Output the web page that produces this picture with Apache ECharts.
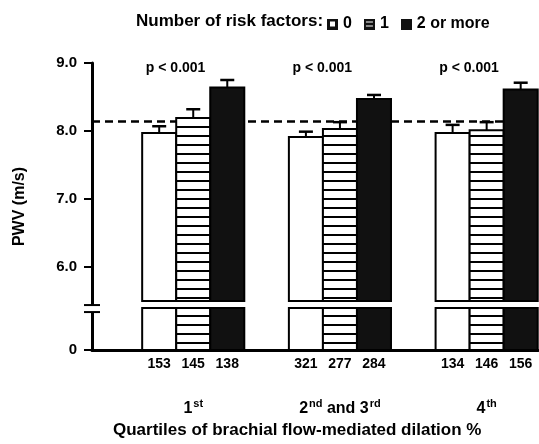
<!DOCTYPE html>
<html>
<head>
<meta charset="utf-8">
<title>PWV by FMD quartile</title>
<script src="https://cdn.jsdelivr.net/npm/echarts@6/dist/echarts.min.js"></script>
<style>html,body{margin:0;padding:0;background:#fff}#main{width:539px;height:444px}</style>
</head>
<body>
<div id="main"></div>
<script>
// categories
var quartiles = ['1{s|st}', '2{s|nd} and 3{s|rd}', '4{s|th}'];
var riskGroups = ['0', '1', '2 or more'];
// mean PWV (m/s), per quartile
var pwv0 = [7.97, 7.91, 7.97];
var pwv1 = [8.19, 8.03, 8.01];
var pwv2 = [8.64, 8.47, 8.61];
// upper error (m/s)
var err0 = [0.10, 0.08, 0.12];
var err1 = [0.13, 0.10, 0.12];
var err2 = [0.11, 0.06, 0.10];
// number of subjects
var n0 = [153, 321, 134];
var n1 = [145, 277, 146];
var n2 = [138, 284, 156];
var pText = ['p < 0.001', 'p < 0.001', 'p < 0.001'];
var refLine = 8.15;
var yTicks = [0, 6, 7, 8, 9];

// broken axis: everything above 5.5 is drawn shifted down, 0..5.5 squeezed
var SHIFT = 4.779;
var BREAK_TOP = 5.5;
var GAP_LOW = 0.618;      // top of the lower bar piece (axis units)
function toAxis(v) { return v <= 0 ? 0 : v - SHIFT; }

var FONT = 'Liberation Sans';
var BAR_W = 0.232;
var OFFSETS = [-BAR_W, 0, BAR_W];

// striped fill
var cv = document.createElement('canvas');
cv.width = 4; cv.height = 9;
var g = cv.getContext('2d');
g.fillStyle = '#fff'; g.fillRect(0, 0, 4, 9);
g.fillStyle = '#000'; g.fillRect(0, 0, 4, 2);
var stripes = { image: cv, repeat: 'repeat' };
var fills = ['#fff', stripes, '#111'];

// little legend squares
function legendIcon(k) {
  var c = document.createElement('canvas');
  c.width = 11; c.height = 11;
  var t = c.getContext('2d');
  t.fillStyle = '#111'; t.fillRect(0, 0, 11, 11);
  t.fillStyle = '#fff';
  if (k === 0) t.fillRect(3, 3, 5, 5);
  if (k === 1) { t.fillRect(2, 3, 7, 1); t.fillRect(2, 7, 7, 1); }
  return 'image://' + c.toDataURL();
}

function barSeries(k, vals, errs, ns) {
  return {
    type: 'custom',
    name: riskGroups[k],
    z: 3,
    itemStyle: { color: k === 1 ? '#fff' : fills[k], borderColor: '#000', borderWidth: 2 },
    encode: { x: 0, y: 1 },
    data: vals.map(function (v, i) { return [i + 1, toAxis(v), toAxis(v + errs[i]), ns[i]]; }),
    renderItem: function (params, api) {
      var x = api.value(0) + OFFSETS[k];
      var w = api.size([BAR_W, 0])[0];
      var c = api.coord([x, 0]);
      var xc = c[0], y0 = c[1];
      var yLo = api.coord([x, GAP_LOW])[1];
      var yHi = api.coord([x, toAxis(BREAK_TOP)])[1];
      var yTop = api.coord([x, api.value(1)])[1];
      var yErr = api.coord([x, api.value(2)])[1];
      var st = { fill: fills[k], stroke: '#000', lineWidth: 2 };
      return {
        type: 'group',
        children: [
          { type: 'line', shape: { x1: xc, y1: yTop, x2: xc, y2: yErr }, style: { stroke: '#000', lineWidth: 2 } },
          { type: 'line', shape: { x1: xc - 7, y1: yErr, x2: xc + 7, y2: yErr }, style: { stroke: '#000', lineWidth: 2.5 } },
          { type: 'rect', shape: { x: xc - w / 2, y: yTop, width: w, height: yHi - yTop }, style: st },
          { type: 'rect', shape: { x: xc - w / 2, y: yLo, width: w, height: y0 - yLo }, style: st },
          { type: 'text', style: { text: String(api.value(3)), x: xc, y: y0 + 14, align: 'center', verticalAlign: 'middle',
            font: 'bold 14px ' + FONT, fill: '#000' } }
        ]
      };
    }
  };
}

var series = [
  barSeries(0, pwv0, err0, n0),
  barSeries(1, pwv1, err1, n1),
  barSeries(2, pwv2, err2, n2),
  {
    type: 'line', name: 'ref', data: [], z: 1,
    markLine: {
      silent: true, symbol: 'none', z: 1,
      label: { show: false },
      lineStyle: { color: '#000', width: 2.5, type: [8, 5] },
      data: [{ yAxis: toAxis(refLine) }]
    }
  },
  {
    type: 'custom', name: 'p', z: 4,
    data: pText.map(function (t, i) { return [i + 1, toAxis(8.93), t]; }),
    renderItem: function (params, api) {
      var p = api.coord([api.value(0) - 0.12, api.value(1)]);
      return { type: 'text', style: { text: pText[params.dataIndex], x: p[0], y: p[1], align: 'center', verticalAlign: 'middle',
        font: 'bold 14px ' + FONT, fill: '#000' } };
    }
  },
  {
    // the break mark on the y axis
    type: 'custom', name: 'break', z: 5,
    data: [[1, 0]],
    renderItem: function (params, api) {
      var xa = params.coordSys.x;
      var y1 = api.coord([1, GAP_LOW - 0.06])[1];
      var y2 = api.coord([1, toAxis(BREAK_TOP) - 0.06])[1];
      return {
        type: 'group',
        children: [
          { type: 'rect', shape: { x: xa - 3, y: y2, width: 6, height: y1 - y2 }, style: { fill: '#fff' } },
          { type: 'line', shape: { x1: xa - 8, y1: y1, x2: xa + 8, y2: y1 }, style: { stroke: '#000', lineWidth: 2 } },
          { type: 'line', shape: { x1: xa - 8, y1: y2, x2: xa + 8, y2: y2 }, style: { stroke: '#000', lineWidth: 2 } }
        ]
      };
    }
  }
];

var option = {
  backgroundColor: '#fff',
  animation: false,
  title: {
    text: 'Number of risk factors:',
    left: 131, top: 8,
    textStyle: { fontFamily: FONT, fontWeight: 'bold', fontSize: 17, color: '#000' }
  },
  legend: {
    left: 322, top: 11,
    itemWidth: 11, itemHeight: 11, itemGap: 12,
    textStyle: { fontFamily: FONT, fontWeight: 'bold', fontSize: 16, color: '#000' },
    data: riskGroups.map(function (name, i) {
      return { name: name, icon: legendIcon(i) };
    })
  },
  grid: { left: 92, right: 1, top: 63, bottom: 94, outerBoundsMode: 'none' },
  xAxis: {
    type: 'value', min: 0.31, max: 3.35,
    splitLine: { show: false },
    axisTick: { show: false },
    axisLine: { onZero: false, lineStyle: { color: '#000', width: 3 } },
    axisLabel: {
      customValues: [1, 2, 3],
      margin: 48,
      formatter: function (v) { return quartiles[Math.round(v) - 1]; },
      color: '#000', fontFamily: FONT, fontWeight: 'bold', fontSize: 16,
      rich: { s: { fontSize: 11, fontWeight: 'bold', fontFamily: FONT, verticalAlign: 'top', padding: [0, 0, 10, 1] } }
    }
  },
  yAxis: {
    type: 'value', min: 0, max: toAxis(9),
    splitLine: { show: false },
    axisLine: { show: true, onZero: false, lineStyle: { color: '#000', width: 3 } },
    axisTick: { show: true, length: 8, customValues: yTicks.map(toAxis), lineStyle: { color: '#000', width: 2 } },
    axisLabel: {
      customValues: yTicks.map(toAxis),
      margin: 15,
      formatter: function (d) {
        for (var i = 0; i < yTicks.length; i++) {
          if (Math.abs(toAxis(yTicks[i]) - d) < 1e-6) return yTicks[i] === 0 ? '0' : yTicks[i].toFixed(1);
        }
        return '';
      },
      color: '#000', fontFamily: FONT, fontWeight: 'bold', fontSize: 15
    },
    name: 'PWV (m/s)', nameLocation: 'middle', nameGap: 64,
    nameTextStyle: { fontFamily: FONT, fontWeight: 'bold', fontSize: 16, color: '#000' }
  },
  graphic: [{
    type: 'text', left: 113, top: 422,
    style: { text: 'Quartiles of brachial flow-mediated dilation %', font: 'bold 17px ' + FONT, fill: '#000' }
  }],
  series: series
};

var chart = echarts.init(document.getElementById('main'));
chart.setOption(option);
</script>
</body>
</html>
